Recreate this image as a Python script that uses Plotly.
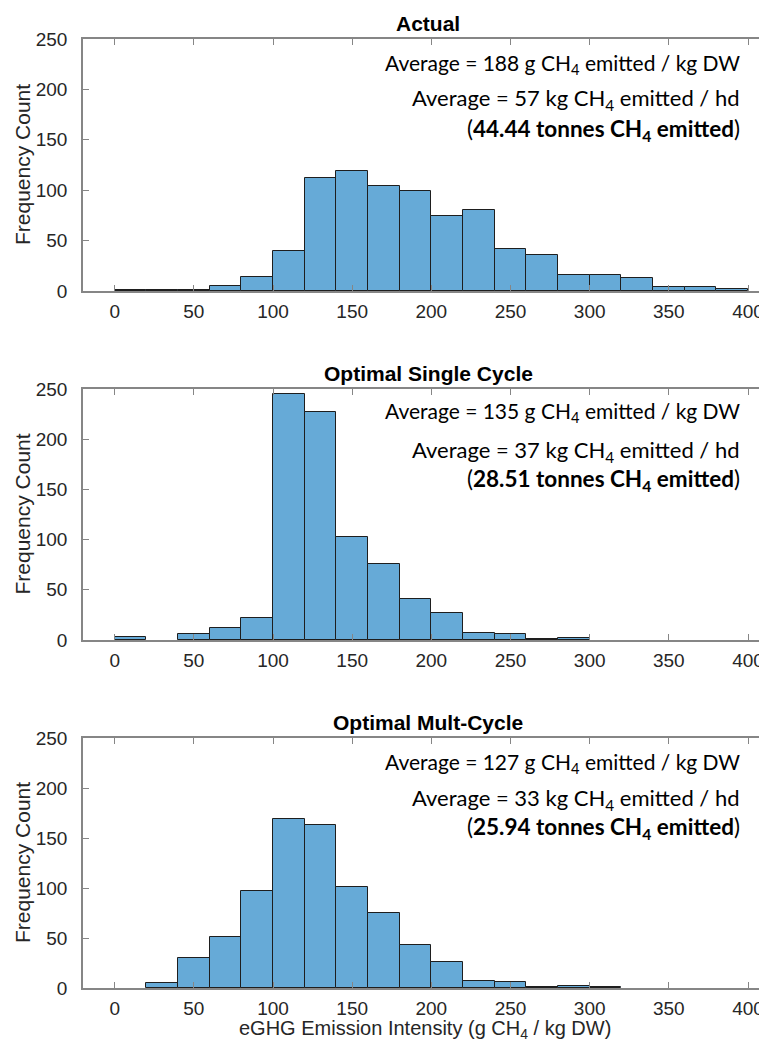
import plotly.graph_objects as go

# Bin left edges (g CH4 / kg DW), bin width 20
bin_left = [0, 20, 40, 60, 80, 100, 120, 140, 160, 180, 200, 220, 240, 260, 280, 300, 320, 340, 360, 380]
bin_width = 20

counts_actual = [1, 1, 1, 5, 14, 40, 112, 119, 104, 99, 74, 80, 42, 36, 16, 16, 13, 4, 4, 2]
counts_single = [3, None, 6, 12, 22, 245, 227, 103, 76, 41, 27, 7, 6, 1, 2, None, None, None, None, None]
counts_multi = [None, 5, 30, 51, 97, 169, 163, 101, 75, 43, 26, 7, 6, 1, 2, 1, None, None, None, None]

titles = ["Actual", "Optimal Single Cycle", "Optimal Mult-Cycle"]
line1 = ["Average = 188 g CH<sub>4</sub> emitted / kg DW",
         "Average = 135 g CH<sub>4</sub> emitted / kg DW",
         "Average = 127 g CH<sub>4</sub> emitted / kg DW"]
line2 = ["Average = 57 kg CH<sub>4</sub> emitted / hd",
         "Average = 37 kg CH<sub>4</sub> emitted / hd",
         "Average = 33 kg CH<sub>4</sub> emitted / hd"]
line3 = ["(<b>44.44 tonnes CH<sub>4</sub> emitted</b>)",
         "(<b>28.51 tonnes CH<sub>4</sub> emitted</b>)",
         "(<b>25.94 tonnes CH<sub>4</sub> emitted</b>)"]

x_ticks = [0, 50, 100, 150, 200, 250, 300, 350, 400]
y_ticks = [0, 50, 100, 150, 200, 250]
x_title = "eGHG Emission Intensity (g CH<sub>4</sub> / kg DW)"
y_title = "Frequency Count"

# The page body adds an 8px offset; work in window pixels and subtract it.
OFF = 8
W, H = 767 - OFF, 1049 - OFF
L = 83 - OFF
panels_px = [(39, 291), (389, 640), (738, 988)]   # window pixels (top, bottom)
text_offsets = [(25, 60, 91), (23, 62, 91), (25, 61, 90)]
text_sizes = [21, 22, 22.5]

bar_fill = "rgb(102,170,215)"
bar_edge = "#1e1e1e"
axis_col = "#868686"
sans = "Liberation Sans, Arial, sans-serif"
tick_font = dict(family=sans, size=19, color="#262626")

fig = go.Figure()
centers = [b + bin_width / 2 for b in bin_left]
all_counts = [counts_actual, counts_single, counts_multi]

def py(px):
    return 1 - (px - OFF) / H

def px_x(px):
    return (px - OFF - L) / (W - L)

for i, cnts in enumerate(all_counts):
    xa = "x" if i == 0 else f"x{i+1}"
    ya = "y" if i == 0 else f"y{i+1}"
    fig.add_trace(go.Bar(
        x=centers, y=cnts, width=bin_width,
        marker=dict(color=bar_fill, line=dict(color=bar_edge, width=1)),
        xaxis=xa, yaxis=ya, showlegend=False, hoverinfo="x+y"))
    top, bot = panels_px[i]
    xkey = "xaxis" if i == 0 else f"xaxis{i+1}"
    ykey = "yaxis" if i == 0 else f"yaxis{i+1}"
    fig.update_layout(**{
        xkey: dict(domain=[0, 1], range=[-20, 412], anchor=ya,
                   tickvals=x_ticks, ticks="inside", ticklen=6, tickcolor=axis_col,
                   showline=True, linecolor=axis_col, linewidth=1.5, mirror="ticks",
                   showgrid=False, zeroline=False, tickfont=tick_font,
                   ticklabelstandoff=2, automargin=False, fixedrange=True),
        ykey: dict(domain=[py(bot), py(top)], range=[0, 250], anchor=xa,
                   tickvals=y_ticks, ticks="inside", ticklen=6, tickcolor=axis_col,
                   showline=True, linecolor=axis_col, linewidth=1.5, mirror=False,
                   showgrid=False, zeroline=False, tickfont=tick_font,
                   ticklabelstandoff=10, automargin=False, fixedrange=True),
    })
    fig.add_annotation(text=f"<b>{titles[i]}</b>", xref="paper", yref="paper",
                       x=px_x(428), y=py(top - 16), xanchor="center", yanchor="middle",
                       showarrow=False, font=dict(family=sans, size=21, color="#000000"))
    for txt, off, sz in zip([line1[i], line2[i], line3[i]], text_offsets[i], text_sizes):
        fig.add_annotation(text=txt, xref="paper", yref="paper",
                           x=px_x(742), y=py(top + off), xanchor="right", yanchor="middle",
                           showarrow=False,
                           font=dict(family="Lato, Carlito, sans-serif", size=sz, color="#000000"))
    fig.add_annotation(text=y_title, xref="paper", yref="paper",
                       x=px_x(22), y=py((top + bot) / 2), xanchor="center", yanchor="middle",
                       textangle=-90, showarrow=False,
                       font=dict(family=sans, size=21, color="#262626"))

fig.add_annotation(text=x_title, xref="paper", yref="paper",
                   x=px_x(425), y=py(1029), xanchor="center", yanchor="middle",
                   showarrow=False, font=dict(family=sans, size=20, color="#262626"))

fig.update_layout(width=W, height=H, margin=dict(l=L, r=0, t=0, b=0),
                  paper_bgcolor="white", plot_bgcolor="white", bargap=0)

fig.write_html("out.html")
